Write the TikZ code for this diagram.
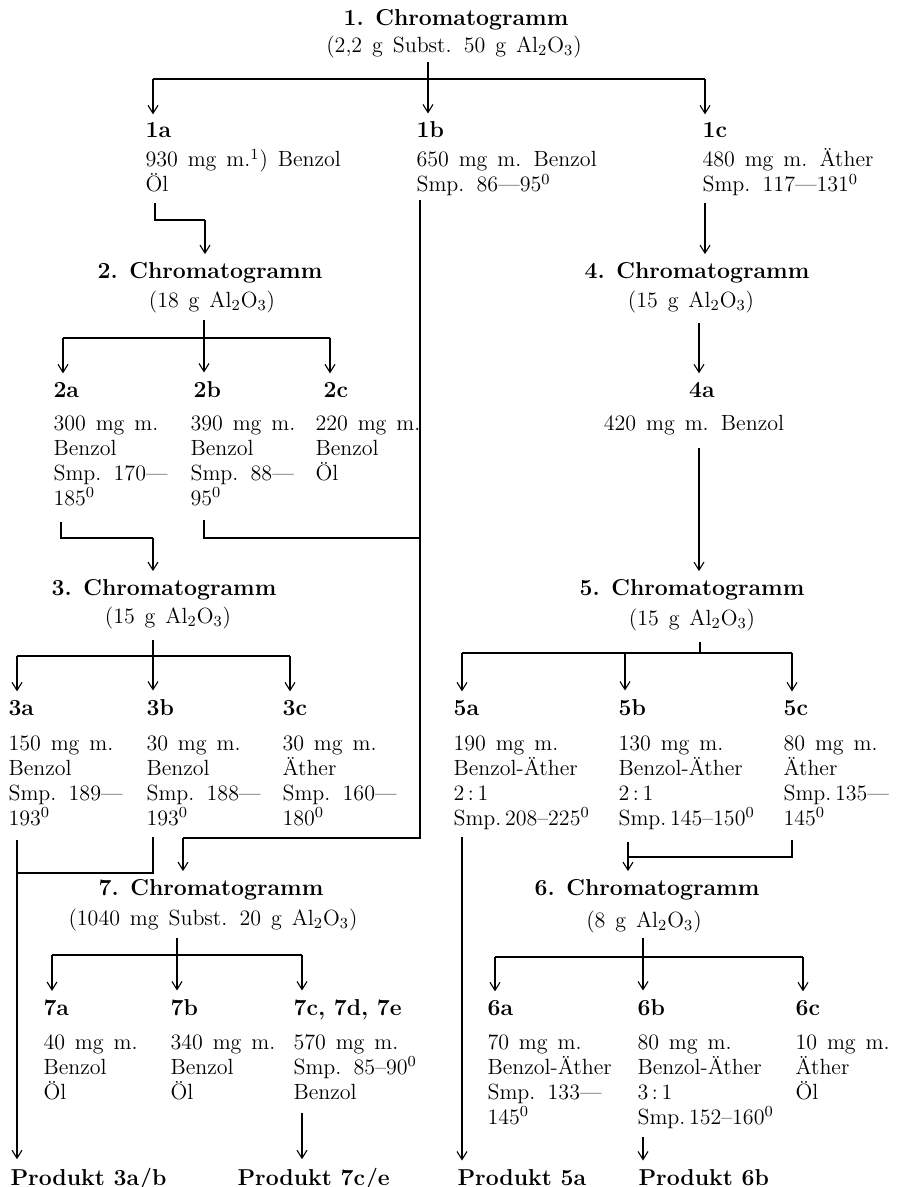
\documentclass[tikz,border=0pt]{standalone}
\usetikzlibrary{arrows.meta}

\newcommand{\alox}{Al\textsubscript{2}O\textsubscript{3}}
\newcommand{\grd}{\textsuperscript{0}}
\newcommand{\widesp}{\spaceskip 0.45em plus 0.1em\relax}

\tikzset{
  txt/.style={font=\fontsize{11}{12.5}\selectfont\widesp, inner sep=0pt},
  head/.style={inner sep=0pt, font=\fontsize{11.5}{12.5}\selectfont\bfseries},
  frac/.style={head, anchor=base west},
  % base of a multi-line node = baseline of its last line
  info/.style={txt, align=left, anchor=base west},
  prod/.style={head, anchor=base west},
  flow/.style={-{Straight Barb[length=4pt,width=5pt]}, shorten >=4pt},
}

\begin{document}
\begin{tikzpicture}[x=0.5pt,y=-0.5pt,line width=0.55pt]
	\useasboundingbox (0,0) rectangle (897,1187);

	% chromatogram headings
	\node[head] (c1) at (456,20) {1. Chromatogramm};
	\node[txt] (c1s) at (454,47) {(2,2 g Subst. 50 g \alox)};
	\node[head] (c2) at (210,273) {2. Chromatogramm};
	\node[txt] (c2s) at (212,302) {(18 g \alox)};
	\node[head] (c3) at (164,590) {3. Chromatogramm};
	\node[txt] (c3s) at (168,618) {(15 g \alox)};
	\node[head] (c4) at (697,273) {4. Chromatogramm};
	\node[txt] (c4s) at (691,302) {(15 g \alox)};
	\node[head] (c5) at (692,590) {5. Chromatogramm};
	\node[txt] (c5s) at (692,620) {(15 g \alox)};
	\node[head] (c6) at (647,890) {6. Chromatogramm};
	\node[txt] (c6s) at (644,922) {(8 g \alox)};
	\node[head] (c7) at (211,890) {7. Chromatogramm};
	\node[txt] (c7s) at (213,920) {(1040 mg Subst. 20 g \alox)};

	% fractions
	\node[frac] (l1a) at (145,138) {1a};
	\node[info] (t1a) at (145,192) {930 mg m.\textsuperscript{1}) Benzol\\Öl};
	\node[frac] (l1b) at (416,138) {1b};
	\node[info] (t1b) at (416,192) {650 mg m. Benzol\\Smp. 86---95\grd};
	\node[frac] (l1c) at (702,138) {1c};
	\node[info] (t1c) at (702,192) {480 mg m. Äther\\Smp. 117---131\grd};

	\node[frac] (l2a) at (53,397) {2a};
	\node[info] (t2a) at (53,505) {300 mg m.\\Benzol\\Smp. 170---\\185\grd};
	\node[frac] (l2b) at (193,397) {2b};
	\node[info] (t2b) at (190,505) {390 mg m.\\Benzol\\Smp. 88---\\95\grd};
	\node[frac] (l2c) at (323,397) {2c};
	\node[info] (t2c) at (315,480) {220 mg m.\\Benzol\\Öl};

	\node[frac] (l3a) at (8,715) {3a};
	\node[info] (t3a) at (8,825) {150 mg m.\\Benzol\\Smp. 189---\\193\grd};
	\node[frac] (l3b) at (146,715) {3b};
	\node[info] (t3b) at (146,825) {30 mg m.\\Benzol\\Smp. 188---\\193\grd};
	\node[frac] (l3c) at (282,715) {3c};
	\node[info] (t3c) at (282,825) {30 mg m.\\Äther\\Smp. 160---\\180\grd};

	\node[head, anchor=base] (l4a) at (702,397) {4a};
	\node[txt, anchor=base] (t4a) at (694,430) {420 mg m. Benzol};

	\node[frac] (l5a) at (453,715) {5a};
	\node[info] (t5a) at (453,825) {190 mg m.\\Benzol-Äther\\2\,:\,1\\Smp.\,208--225\grd};
	\node[frac] (l5b) at (618,715) {5b};
	\node[info] (t5b) at (618,825) {130 mg m.\\Benzol-Äther\\2\,:\,1\\Smp.\,145--150\grd};
	\node[frac] (l5c) at (783,715) {5c};
	\node[info] (t5c) at (783,825) {80 mg m.\\Äther\\Smp.\,135---\\145\grd};

	\node[frac] (l6a) at (487,1015) {6a};
	\node[info] (t6a) at (487,1124) {70 mg m.\\Benzol-Äther\\Smp. 133---\\145\grd};
	\node[frac] (l6b) at (637,1015) {6b};
	\node[info] (t6b) at (637,1124) {80 mg m.\\Benzol-Äther\\3\,:\,1\\Smp.\,152--160\grd};
	\node[frac] (l6c) at (795,1015) {6c};
	\node[info] (t6c) at (795,1099) {10 mg m.\\Äther\\Öl};

	\node[frac] (l7a) at (43,1015) {7a};
	\node[info] (t7a) at (43,1099) {40 mg m.\\Benzol\\Öl};
	\node[frac] (l7b) at (170,1015) {7b};
	\node[info] (t7b) at (170,1099) {340 mg m.\\Benzol\\Öl};
	\node[frac] (l7c) at (293,1015) {7c, 7d, 7e};
	\node[info] (t7c) at (293,1099) {570 mg m.\\Smp. 85--90\grd\\Benzol};

	% end products
	\node[prod] (p3ab) at (10,1185) {Produkt 3a/b};
	\node[prod] (p7ce) at (237,1185) {Produkt 7c/e};
	\node[prod] (p5a) at (457,1185) {Produkt 5a};
	\node[prod] (p6b) at (638,1185) {Produkt 6b};

	% branching points
	\coordinate (k1) at (428,62);  \coordinate (k1m) at (428,79);
	\coordinate (k1l) at (153,79); \coordinate (k1r) at (705,79);
	\coordinate (k2) at (204,320); \coordinate (k2m) at (204,338);
	\coordinate (k2l) at (63,338); \coordinate (k2r) at (330,338);
	\coordinate (k3) at (153,640); \coordinate (k3m) at (153,656);
	\coordinate (k3l) at (17,656); \coordinate (k3r) at (290,656);
	\coordinate (k5) at (700,642); \coordinate (k5m) at (700,653);
	\coordinate (k5l) at (462,653); \coordinate (k5b) at (625,653); \coordinate (k5r) at (792,653);
	\coordinate (k6) at (643,938); \coordinate (k6m) at (643,957);
	\coordinate (k6l) at (495,957); \coordinate (k6r) at (803,957);
	\coordinate (k7) at (177,938); \coordinate (k7m) at (177,955);
	\coordinate (k7l) at (52,955);  \coordinate (k7r) at (302,955);

	\draw (k1) -- (k1m);  \draw (k1l) -- (k1r);
	\draw[flow] (k1l) -- (k1l |- l1a.north);
	\draw[flow] (k1m) -- (k1m |- l1b.north);
	\draw[flow] (k1r) -- (k1r |- l1c.north);

	\draw (k2) -- (k2m);  \draw (k2l) -- (k2r);
	\draw[flow] (k2l) -- (k2l |- l2a.north);
	\draw[flow] (k2m) -- (k2m |- l2b.north);
	\draw[flow] (k2r) -- (k2r |- l2c.north);

	\draw (k3) -- (k3m);  \draw (k3l) -- (k3r);
	\draw[flow] (k3l) -- (k3l |- l3a.north);
	\draw[flow] (k3m) -- (k3m |- l3b.north);
	\draw[flow] (k3r) -- (k3r |- l3c.north);

	\draw (k5) -- (k5m);  \draw (k5l) -- (k5r);
	\draw[flow] (k5l) -- (k5l |- l5a.north);
	\draw[flow] (k5b) -- (k5b |- l5b.north);
	\draw[flow] (k5r) -- (k5r |- l5c.north);

	\draw (k6) -- (k6m);  \draw (k6l) -- (k6r);
	\draw[flow] (k6l) -- (k6l |- l6a.north);
	\draw[flow] (k6m) -- (k6m |- l6b.north);
	\draw[flow] (k6r) -- (k6r |- l6c.north);

	\draw (k7) -- (k7m);  \draw (k7l) -- (k7r);
	\draw[flow] (k7l) -- (k7l |- l7a.north);
	\draw[flow] (k7m) -- (k7m |- l7b.north);
	\draw[flow] (k7r) -- (k7r |- l7c.north);

	% fractions passed on
	\coordinate (o1a) at (155,203); \coordinate (m2) at (205,220);
	\draw (o1a) |- (m2);
	\draw[flow] (m2) -- (m2 |- c2.north);
	\coordinate (o1b) at (420,200); \coordinate (m7) at (183,838);
	\draw (o1b) |- (m7);
	\draw[flow] (m7) -- (m7 |- c7.north);
	\coordinate (o1c) at (705,203);
	\draw[flow] (o1c) -- (o1c |- c4.north);

	\coordinate (o2a) at (61,522); \coordinate (m3) at (153,538);
	\draw (o2a) |- (m3);
	\draw[flow] (m3) -- (m3 |- c3.north);
	\coordinate (o2b) at (204,520); \coordinate (o2e) at (420,538);
	\draw (o2b) |- (o2e);

	\coordinate (o3a) at (17,840);
	\draw[flow] (o3a) -- (o3a |- p3ab.north);
	\coordinate (o3b) at (153,837); \coordinate (o3e) at (17,873);
	\draw (o3b) |- (o3e);

	\coordinate (o4) at (699,323);
	\draw[flow] (o4) -- (o4 |- l4a.north);
	\coordinate (o4a) at (699,448);
	\draw[flow] (o4a) -- (o4a |- c5.north);

	\coordinate (o5a) at (462,837);
	\draw[flow] (o5a) -- (o5a |- p5a.north);
	\coordinate (o5c) at (792,840); \coordinate (m6) at (628,857);
	\draw (o5c) |- (m6);
	\coordinate (o5b) at (628,842);
	\draw[flow] (o5b) -- (o5b |- c6.north);

	\coordinate (o6b) at (643,1137);
	\draw[flow] (o6b) -- (o6b |- p6b.north);
	\coordinate (o7c) at (302,1113);
	\draw[flow] (o7c) -- (o7c |- p7ce.north);
\end{tikzpicture}
\end{document}
